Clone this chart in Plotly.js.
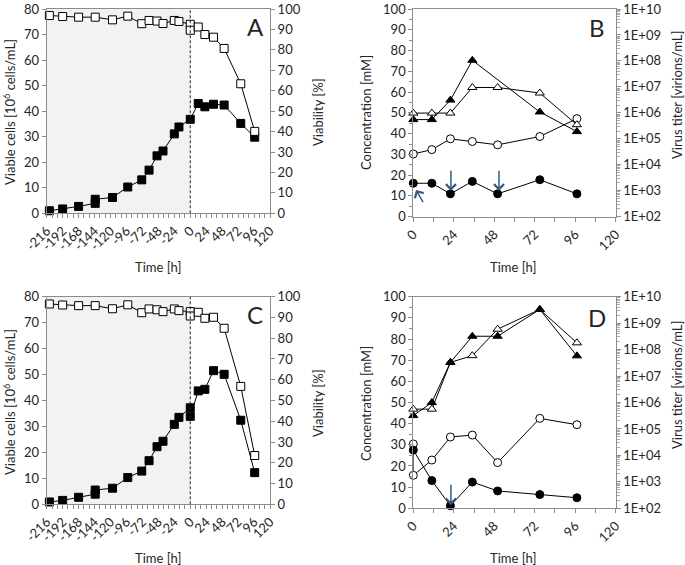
<!DOCTYPE html>
<html>
<head>
<meta charset="utf-8">
<script src="https://cdn.plot.ly/plotly-3.0.1.min.js"></script>
<style>html,body{margin:0;padding:0;background:#fff;}#chart{width:685px;height:565px;}</style>
</head>
<body>
<div id="chart"></div>
<script>
// ---------- Panel A (cell growth, run 1) ----------
const tCellsA = [-212,-192,-168,-143,-143,-117,-94,-73,-62,-50,-41,-24,-17,0,12,22,35,51,76,97];
const cellsA  = [1.0,1.7,2.7,3.9,5.5,6.2,10.3,13.1,16.9,22.5,24.4,31.1,33.8,36.8,43.0,41.7,42.7,42.4,35.2,29.8];
const tViabA  = [-212,-192,-168,-143,-117,-94,-73,-62,-50,-41,-24,-17,0,0,12,22,35,51,76,97];
const viabA   = [96.8,96.3,96.0,96.0,94.7,96.5,92.8,94.4,94.1,92.9,94.4,93.9,92.5,89.6,91.2,87.5,86.2,80.7,63.4,40.1];

// ---------- Panel C (cell growth, run 2) ----------
const tCellsC = [-212,-192,-168,-143,-143,-117,-94,-73,-62,-50,-41,-24,-17,0,0,12,22,35,51,76,97];
const cellsC  = [0.9,1.5,2.7,3.9,5.5,6.2,10.3,12.8,16.8,22.2,24.3,30.8,33.5,37.2,33.9,43.7,44.3,51.5,50.1,32.4,12.2];
const tViabC  = [-212,-192,-168,-143,-117,-94,-73,-62,-50,-41,-24,-17,0,0,12,22,35,51,76,97];
const viabC   = [96.5,96.0,95.7,95.7,94.2,96.1,92.3,94.1,93.7,92.8,94.1,93.3,92.8,90.7,92.5,89.6,90.1,84.8,56.8,23.5];

// ---------- Panel B (metabolites and virus titer, run 1) ----------
const tB          = [0,11,22,35,50,75,97];
const openCircB   = [30.2,32.3,37.5,36.2,34.6,38.6,47.2];
const fillCircB   = [16.1,16.1,11.0,17.0,11.0,17.8,11.0];
const tOpenTriB   = [0,11,22,35,50,75,97];
const openTriB    = [9.8e5,9.8e5,9.8e5,9.5e6,9.5e6,5.8e6,3.5e5];
const tFillTriB   = [0,11,22,35,75,97];
const fillTriB    = [5.5e5,5.5e5,3.1e6,1.06e8,1.08e6,1.9e5];

// ---------- Panel D (metabolites and virus titer, run 2) ----------
const tD          = [0,11,22,35,50,75,97];
const tOpenCircD  = [0,0,11,22,35,50,75,97];
const openCircD   = [30.4,15.6,22.8,33.7,34.6,21.6,42.5,39.5];
const fillCircD   = [27.5,13.1,1.2,12.4,8.2,6.5,5.0];
const openTriD    = [5.6e5,5.6e5,3.3e7,5.9e7,5.9e8,3.3e9,1.8e8];
const fillTriD    = [3.2e5,1.0e6,3.3e7,3.2e8,3.2e8,3.3e9,5.8e7];

// ---------- Tick labels ----------
const ticksLong   = [-216,-192,-168,-144,-120,-96,-72,-48,-24,0,24,48,72,96,120];
const ticksShort  = [0,24,48,72,96,120];
const titerTicks  = [1e2,1e3,1e4,1e5,1e6,1e7,1e8,1e9,1e10];
const titerLabels = ["1E+02","1E+03","1E+04","1E+05","1E+06","1E+07","1E+08","1E+09","1E+10"];

// feeding arrows (head t, head conc, tail t, tail conc)
const arrowsB = [[22.3,12.5,22.3,22.9],[50.8,12.5,50.8,22.9],[1.6,12.9,6.3,6.3]];
const arrowsD = [[22.3,1.5,22.3,11.8]];

// ---------- styling ----------
const FONT = 'Lato, "Open Sans", sans-serif';
const TXT = '#262626';
const AX = '#8c8c8c';
const BLUE = '#2f5b88';

function line(x, y, sym, xa, ya, fill, size) {
  return {
    x: x, y: y, xaxis: xa, yaxis: ya, type: 'scatter', mode: 'lines+markers',
    cliponaxis: false, showlegend: false,
    line: {color: '#000', width: 1},
    marker: {symbol: sym, size: size || 8, color: fill ? '#000' : '#fff', line: {color: '#000', width: 1}}
  };
}

const traces = [
  line(tViabA, viabA, 'square', 'x', 'y2', false, 8),
  line(tCellsA, cellsA, 'square', 'x', 'y', true, 8),
  line(tOpenTriB, openTriB, 'triangle-up', 'x2', 'y4', false, 8),
  line(tFillTriB, fillTriB, 'triangle-up', 'x2', 'y4', true, 8),
  line(tB, openCircB, 'circle', 'x2', 'y3', false, 8),
  line(tB, fillCircB, 'circle', 'x2', 'y3', true, 8),
  line(tViabC, viabC, 'square', 'x3', 'y6', false, 8),
  line(tCellsC, cellsC, 'square', 'x3', 'y5', true, 8),
  line(tD, openTriD, 'triangle-up', 'x4', 'y8', false, 8),
  line(tD, fillTriD, 'triangle-up', 'x4', 'y8', true, 8),
  line(tOpenCircD, openCircD, 'circle', 'x4', 'y7', false, 8),
  line(tD, fillCircD, 'circle', 'x4', 'y7', true, 8)
];

const W = 685, H = 565;
const px = v => v / W;
const py = v => 1 - v / H;

const tickFont = {family: FONT, size: 13, color: TXT};

function xAxis(domain, anchor, range, vals, minorDt) {
  return {
    domain: domain, anchor: anchor, range: range,
    tickmode: 'array', tickvals: vals, ticktext: vals.map(v => String(v)),
    tickangle: -45, tickfont: tickFont, ticklabeloverflow: 'allow',
    ticks: 'outside', ticklen: 4, tickcolor: AX,
    minor: {dtick: minorDt, tick0: 0, ticks: 'outside', ticklen: 4, tickcolor: AX},
    showline: true, linecolor: AX, linewidth: 1, mirror: true,
    showgrid: false, zeroline: false, fixedrange: true
  };
}
function yLeft(domain, anchor, range, dt, minorDt) {
  const a = {
    domain: domain, anchor: anchor, range: range, dtick: dt, tick0: 0,
    tickfont: tickFont, ticklabeloverflow: 'allow', ticks: 'outside', ticklen: 4, tickcolor: AX,
    showline: true, linecolor: AX, linewidth: 1,
    showgrid: false, zeroline: false, fixedrange: true
  };
  if (minorDt) a.minor = {dtick: minorDt, ticks: 'outside', ticklen: 3, tickcolor: AX};
  return a;
}
function yRightLin(over, anchor) {
  return {
    overlaying: over, anchor: anchor, side: 'right', range: [0, 100], dtick: 10, tick0: 0,
    tickfont: tickFont, ticklabeloverflow: 'allow', ticks: 'outside', ticklen: 4, tickcolor: AX,
    showline: true, linecolor: AX, linewidth: 1,
    showgrid: false, zeroline: false, fixedrange: true
  };
}
function yRightLog(over, anchor) {
  return {
    overlaying: over, anchor: anchor, side: 'right', type: 'log', range: [2, 10],
    tickmode: 'array', tickvals: titerTicks, ticktext: titerLabels,
    tickfont: tickFont, ticklabeloverflow: 'allow', ticks: 'outside', ticklen: 4, tickcolor: AX,
    minor: {dtick: 'D1', ticks: 'outside', ticklen: 3, tickcolor: '#aaaaaa'},
    showline: true, linecolor: AX, linewidth: 1,
    showgrid: false, zeroline: false, fixedrange: true
  };
}

const domAx = [px(46.7), px(270)];
const domBx = [px(413.3), px(615.7)];
const domAy = [py(213.3), py(9)];
const domBy = [py(216.7), py(9)];
const domCy = [py(504.3), py(296.7)];
const domDy = [py(508.3), py(296.7)];

const ann = [];
function txt(x, y, text, size, angle) {
  ann.push({xref: 'paper', yref: 'paper', x: px(x), y: py(y), text: text, showarrow: false,
    xanchor: 'center', yanchor: 'middle', textangle: angle || 0,
    font: {family: FONT, size: size, color: TXT}});
}
// axis titles
txt(9, 112, 'Viable cells [10<sup>6</sup> cells/mL]', 13, -90);
txt(318, 112, 'Viability [%]', 13, -90);
txt(158, 267, 'Time [h]', 13);
txt(366, 112, 'Concentration [mM]', 13, -90);
txt(677, 95, 'Virus titer [virions/mL]', 13, -90);
txt(513, 267, 'Time [h]', 13);
txt(9, 402, 'Viable cells [10<sup>6</sup> cells/mL]', 13, -90);
txt(318, 403, 'Viability [%]', 13, -90);
txt(158, 558, 'Time [h]', 13);
txt(366, 403, 'Concentration [mM]', 13, -90);
txt(677, 385, 'Virus titer [virions/mL]', 13, -90);
txt(513, 558, 'Time [h]', 13);
// panel letters
txt(255, 26, 'A', 24);
txt(597, 28, 'B', 24);
txt(255, 314, 'C', 24);
txt(597, 317, 'D', 24);

function arrow(a, xa, ya) {
  ann.push({xref: xa, yref: ya, axref: xa, ayref: ya, x: a[0], y: a[1], ax: a[2], ay: a[3],
    text: '', showarrow: true, arrowhead: 4, arrowsize: 1.3, arrowwidth: 1.5, arrowcolor: BLUE});
}
arrowsB.forEach(a => arrow(a, 'x2', 'y3'));
arrowsD.forEach(a => arrow(a, 'x4', 'y7'));

const shapes = [
  {type: 'rect', xref: 'x', yref: 'y', x0: -216, x1: 0, y0: 0, y1: 80, fillcolor: '#f2f2f2', line: {width: 0}, layer: 'below'},
  {type: 'line', xref: 'x', yref: 'y', x0: 0, x1: 0, y0: 0, y1: 80, line: {color: '#222', width: 1, dash: '3px,2px'}},
  {type: 'rect', xref: 'x3', yref: 'y5', x0: -216, x1: 0, y0: 0, y1: 80, fillcolor: '#f2f2f2', line: {width: 0}, layer: 'below'},
  {type: 'line', xref: 'x3', yref: 'y5', x0: 0, x1: 0, y0: 0, y1: 80, line: {color: '#222', width: 1, dash: '3px,2px'}}
];

const layout = {
  width: W, height: H, autosize: false,
  margin: {l: 0, r: 0, t: 0, b: 0, pad: 0},
  paper_bgcolor: '#fff', plot_bgcolor: '#fff',
  font: {family: FONT, color: TXT, size: 13},
  showlegend: false,
  xaxis:  xAxis(domAx, 'y', [-216, 120], ticksLong, 8),
  yaxis:  yLeft(domAy, 'x', [0, 80], 10),
  yaxis2: yRightLin('y', 'x'),
  xaxis2: xAxis(domBx, 'y3', [0, 120], ticksShort, 12),
  yaxis3: yLeft(domBy, 'x2', [0, 100], 10, 5),
  yaxis4: yRightLog('y3', 'x2'),
  xaxis3: xAxis(domAx, 'y5', [-216, 120], ticksLong, 8),
  yaxis5: yLeft(domCy, 'x3', [0, 80], 10),
  yaxis6: yRightLin('y5', 'x3'),
  xaxis4: xAxis(domBx, 'y7', [0, 120], ticksShort, 12),
  yaxis7: yLeft(domDy, 'x4', [0, 100], 10, 5),
  yaxis8: yRightLog('y7', 'x4'),
  shapes: shapes,
  annotations: ann
};

Plotly.newPlot('chart', traces, layout, {staticPlot: true, displayModeBar: false});
</script>
</body>
</html>
